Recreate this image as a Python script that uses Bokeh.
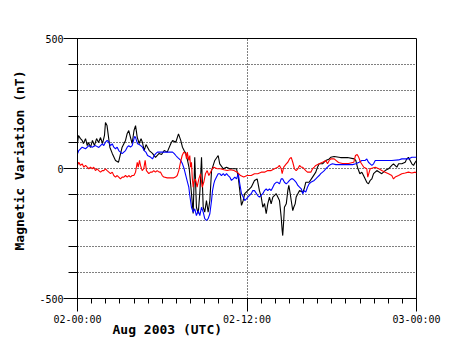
import math
from bokeh.plotting import figure
from bokeh.models import FixedTicker, Title, Range1d
from bokeh.embed import file_html
from bokeh.resources import INLINE

# hours since 2003-08-02 00:00 UTC, values in nT
black_t = [0.00,0.07,0.21,0.33,0.42,0.57,0.69,0.78,0.92,1.06,
           1.20,1.35,1.49,1.63,1.77,1.91,1.98,2.09,2.29,2.46,
           2.69,2.90,3.16,3.40,3.52,3.63,3.75,3.87,4.00,4.11,
           4.23,4.37,4.50,4.60,4.72,4.85,5.08,5.31,5.52,5.78,
           5.95,6.14,6.35,6.61,6.73,6.96,7.15,7.31,7.43,7.55,
           7.67,7.79,7.91,8.07,8.19,8.30,8.42,8.55,8.67,8.78,
           8.90,9.01,9.13,9.25,9.37,9.49,9.72,9.96,10.07,10.32,
           10.55,10.78,11.02,11.26,11.38,11.49,11.61,11.73,11.84,12.06,
           12.30,12.53,12.72,12.88,13.01,13.12,13.24,13.36,13.47,13.59,
           13.71,13.83,14.07,14.30,14.42,14.49,14.53,14.60,14.65,14.78,
           14.89,14.96,15.06,15.13,15.24,15.31,15.41,15.48,15.72,15.95,
           16.05,16.16,16.40,16.64,16.87,16.99,17.11,17.35,17.58,17.82,
           17.93,18.17,18.62,19.12,19.59,19.70,19.82,19.99,20.13,20.25,
           20.48,20.60,20.72,20.84,20.96,21.19,21.54,21.78,22.02,22.25,
           22.37,22.61,22.73,22.96,23.20,23.31,23.43,23.55,23.67,23.79,
           23.91,24.00]
black_v = [96,127,115,108,96,115,88,100,81,108,
           88,115,100,119,96,127,177,165,82,58,
           31,24,82,108,135,146,120,96,146,165,
           120,96,115,100,69,92,69,58,43,58,
           54,69,63,96,108,101,133,108,82,69,
           58,31,0,-96,-173,43,-149,-173,-85,43,
           -149,-168,-123,-168,-123,-8,31,50,18,-1,
           5,-1,-1,-1,-33,-85,-142,-123,-97,-85,
           -72,-46,-40,-85,-110,-149,-135,-174,-136,-110,
           -136,-110,-97,-123,-187,-238,-258,-200,-149,-136,
           -85,-65,-97,-123,-162,-149,-136,-110,-85,-91,
           -78,-53,-53,-33,-14,5,18,18,31,37,
           43,46,42,42,37,31,5,-20,-14,-27,
           -53,-59,-46,-40,-20,-8,-20,-8,-1,12,
           18,5,18,18,24,37,43,31,18,12,
           24,31]

blue_t = [0.00,0.09,0.33,0.57,0.80,1.04,1.27,1.51,1.75,1.86,
          1.98,2.10,2.22,2.34,2.46,2.57,2.69,2.81,2.92,3.04,
          3.16,3.28,3.40,3.52,3.63,3.75,3.87,4.04,4.11,4.25,
          4.37,4.48,4.60,4.72,4.84,4.96,5.19,5.31,5.43,5.54,
          5.66,6.14,6.49,6.73,6.85,6.96,7.08,7.20,7.31,7.43,
          7.55,7.67,7.79,7.88,7.95,8.07,8.19,8.30,8.42,8.55,
          8.66,8.78,8.90,9.01,9.13,9.25,9.37,9.49,9.56,9.65,
          9.72,9.84,9.96,10.07,10.19,10.32,10.43,10.55,10.67,10.78,
          10.90,11.02,11.14,11.26,11.38,11.49,11.61,11.73,11.84,11.96,
          12.06,12.30,12.41,12.53,12.76,12.88,13.12,13.24,13.36,13.47,
          13.59,13.71,13.83,13.95,14.07,14.18,14.30,14.42,14.53,14.65,
          14.78,14.89,15.01,15.13,15.24,15.36,15.48,15.60,15.72,15.84,
          15.95,16.05,16.16,16.28,16.40,16.52,16.76,16.87,16.99,17.11,
          17.22,17.35,17.47,17.58,17.70,17.82,17.93,18.05,18.29,18.76,
          19.24,19.47,19.70,19.94,20.13,20.37,20.48,20.60,20.72,20.84,
          20.96,21.08,21.54,22.25,22.73,22.96,23.43,23.67,24.00]
blue_v = [57,69,82,76,88,82,88,81,95,88,
          101,108,101,88,95,82,76,82,69,63,
          57,63,69,82,88,82,88,123,120,95,
          92,88,82,69,63,50,43,37,50,57,
          63,63,63,63,57,50,43,37,31,18,
          -1,-27,-53,-72,-104,-149,-168,-155,-181,-162,
          -181,-149,-168,-193,-200,-193,-174,-123,-85,-59,
          -46,-33,-20,-20,-27,-20,-27,-20,-27,-33,
          -46,-40,-33,-40,-20,-59,-97,-110,-123,-117,
          -110,-97,-85,-85,-104,-110,-97,-85,-78,-85,
          -78,-85,-72,-59,-53,-53,-59,-40,-40,-53,
          -59,-53,-46,-40,-40,-46,-53,-65,-72,-78,
          -97,-85,-91,-72,-59,-53,-46,-40,-33,-27,
          -20,-14,-8,-1,5,12,15,18,15,15,
          15,15,18,24,31,31,37,24,18,12,
          18,31,31,31,33,37,37,43,43]

red_t = [0.00,0.09,0.21,0.33,0.45,0.57,0.69,0.80,0.92,1.04,
         1.15,1.27,1.39,1.51,1.63,1.75,1.86,1.98,2.10,2.22,
         2.34,2.46,2.57,2.69,2.81,2.92,3.04,3.16,3.28,3.40,
         3.52,3.63,3.75,3.87,3.99,4.11,4.23,4.30,4.39,4.46,
         4.58,4.69,4.79,4.88,5.05,5.17,5.29,5.40,5.52,5.64,
         5.78,5.88,6.00,6.11,6.35,6.58,6.82,6.94,7.06,7.17,
         7.29,7.41,7.53,7.65,7.72,7.77,7.88,7.95,8.00,8.07,
         8.12,8.19,8.23,8.35,8.47,8.59,8.71,8.83,8.94,9.06,
         9.18,9.30,9.42,9.54,9.65,9.89,10.12,10.36,10.60,10.83,
         11.07,11.31,11.54,11.77,12.01,12.30,12.53,12.76,13.01,13.24,
         13.47,13.71,13.95,14.18,14.30,14.42,14.49,14.60,14.78,14.89,
         15.01,15.13,15.24,15.36,15.48,15.60,15.72,15.84,15.93,16.16,
         16.28,16.52,16.64,16.76,16.87,17.11,17.35,17.58,17.70,17.82,
         17.93,18.17,18.48,18.76,19.19,19.56,19.68,19.80,19.91,20.04,
         20.27,20.48,20.55,20.72,21.08,21.33,21.54,21.78,22.02,22.25,
         22.37,22.49,22.73,22.96,23.20,23.43,23.67,23.91,24.00]
red_v = [12,24,12,18,5,12,5,-1,5,-1,
         5,-8,-1,-8,-14,-8,-8,-1,-8,-14,
         -20,-14,-27,-33,-27,-33,-40,-33,-33,-27,
         -33,-27,-33,-27,-27,-14,24,5,31,12,
         -8,-1,31,-8,-20,-14,-14,-8,-14,-8,
         -14,-14,-27,-33,-36,-36,-36,-33,-27,-8,
         24,50,63,57,37,63,31,50,5,24,
         -33,-72,-53,-40,-72,-40,-20,-72,-53,-20,
         -8,-27,-14,-1,5,-1,-1,-5,-8,-5,
         -8,-14,-27,-33,-27,-27,-20,-20,-14,-14,
         -8,-8,-1,5,12,-1,-20,5,18,24,
         37,43,24,-1,-8,-1,12,5,5,-8,
         -14,-14,-1,5,12,18,24,31,18,31,
         37,37,23,19,19,24,50,54,43,24,
         5,-1,-33,-1,5,-1,-8,-14,-20,-27,
         -40,-33,-27,-20,-17,-14,-17,-14,-18]

x_ticks = [0, 12, 24]
x_tick_labels = ["02-00:00", "02-12:00", "03-00:00"]
y_ticks = [-500, 0, 500]
y_tick_labels = ["-500", "0", "500"]
y_label = "Magnetic Variation (nT)"
x_label = "Aug 2003 (UTC)"

MONO = "DejaVu Sans Mono"

p = figure(frame_width=339, frame_height=260,
           min_border_left=77, min_border_right=40,
           min_border_top=38, min_border_bottom=60,
           output_backend="svg", toolbar_location=None,
           x_range=Range1d(0, 24), y_range=Range1d(-500, 500))
p.background_fill_color = "white"
p.border_fill_color = "white"
p.outline_line_color = "black"
p.outline_line_alpha = 1.0
p.outline_line_width = 1

# x axis
xa = p.xaxis[0]
xa.ticker = FixedTicker(ticks=x_ticks, minor_ticks=list(range(0, 25)))
xa.major_label_overrides = {t: s for t, s in zip(x_ticks, x_tick_labels)}
xa.major_tick_in = 0
xa.major_tick_out = 13
xa.minor_tick_in = 0
xa.minor_tick_out = 5
xa.major_label_standoff = 2
xa.major_label_text_font = MONO
xa.major_label_text_font_size = "10px"
xa.major_label_text_color = "black"
xa.axis_line_color = "black"
xa.major_tick_line_color = "black"
xa.minor_tick_line_color = "black"

# y axis
ya = p.yaxis[0]
ya.ticker = FixedTicker(ticks=y_ticks, minor_ticks=list(range(-500, 501, 100)))
ya.major_label_overrides = {t: s for t, s in zip(y_ticks, y_tick_labels)}
ya.major_tick_in = 0
ya.major_tick_out = 14
ya.minor_tick_in = 0
ya.minor_tick_out = 9
ya.major_label_standoff = 0
ya.major_label_text_font = MONO
ya.major_label_text_font_size = "10px"
ya.major_label_text_color = "black"
ya.axis_line_color = "black"
ya.major_tick_line_color = "black"
ya.minor_tick_line_color = "black"

# grid
p.ygrid.ticker = FixedTicker(ticks=list(range(-400, 401, 100)))
p.ygrid.grid_line_color = "black"
p.ygrid.grid_line_dash = "1 2"
p.ygrid.grid_line_width = 1
p.xgrid.ticker = FixedTicker(ticks=[12])
p.xgrid.grid_line_color = "black"
p.xgrid.grid_line_dash = "1 2"
p.xgrid.grid_line_width = 1

p.line(black_t, black_v, line_color="black", line_width=1.1)
p.line(blue_t, blue_v, line_color="#0000ff", line_width=1.1)
p.line(red_t, red_v, line_color="#ff0000", line_width=1.1)

p.add_layout(Title(text=y_label, align="left", offset=48, standoff=19,
                   text_font=MONO, text_font_style="bold",
                   text_font_size="13px", text_color="black"), "left")
p.add_layout(Title(text=x_label, align="left", offset=35, standoff=-16,
                   text_font=MONO, text_font_style="bold",
                   text_font_size="13px", text_color="black"), "below")

open("out.html", "w").write(file_html(p, INLINE))
